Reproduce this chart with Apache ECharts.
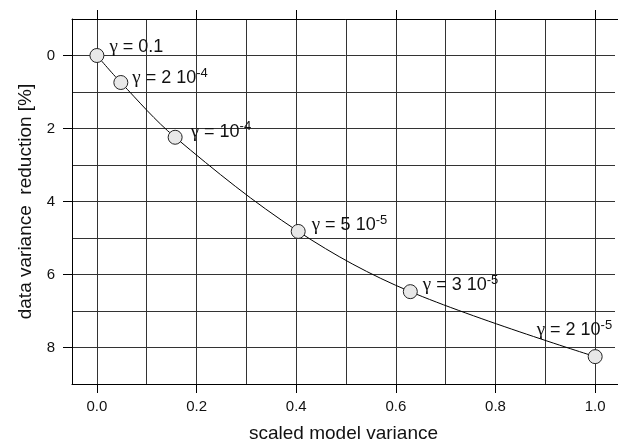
<!DOCTYPE html>
<html>
<head>
<meta charset="utf-8">
<script src="https://cdn.jsdelivr.net/npm/echarts@6/dist/echarts.min.js"></script>
<style>
  html, body { margin: 0; padding: 0; background: #fff; }
  #chart { width: 618px; height: 443px; }
</style>
</head>
<body>
<div id="chart"></div>
<script>
// scaled model variance / data variance reduction [%]
var modelVar = [0.0, 0.048, 0.157, 0.404, 0.629, 1.0];
var dataRed = [0.0, 0.74, 2.24, 4.82, 6.47, 8.25];
// gamma labels: mantissa part and exponent (superscript)
var gammaTxt = ['0.1', '2 10', '10', '5 10', '3 10', '2 10'];
var gammaExp = ['', '-4', '-4', '-5', '-5', '-5'];
var xTicks = [0, 0.2, 0.4, 0.6, 0.8, 1.0];
var yTicks = [0, 2, 4, 6, 8];

// label offset from point centre (left edge, vertical middle)
var labelOff = [[13, -8], [12, -4], [16, -5], [14, -6], [13, -6], [-58, -26]];

var font = '"Liberation Sans", Arial, sans-serif';
var noLine = { show: false, lineStyle: { color: 'rgba(0,0,0,0)', width: 0 } };
var chart = echarts.init(document.getElementById('chart'));

var pts = modelVar.map(function (x, i) {
  var txt = '{g|γ} = ' + gammaTxt[i] + (gammaExp[i] ? '{s|' + gammaExp[i] + '}' : '');
  return {
    value: [x, dataRed[i]],
    label: {
      show: true,
      formatter: txt,
      position: [labelOff[i][0] + 7, labelOff[i][1] + 7],
      align: 'left',
      verticalAlign: 'middle'
    }
  };
});

// plot runs off the right edge of the picture
var xMin = -0.05, xMax = 1.1;

var option = {
  animation: false,
  // mask the stray edge line at the right border of the canvas
  graphic: [{
    type: 'rect', z: 1, silent: true,
    shape: { x: 615, y: 20, width: 5, height: 363 },
    style: { fill: '#fff' }
  }],
  grid: [
    { show: false, borderWidth: 0, left: 72, top: 19, bottom: 59, right: -27, outerBoundsMode: 'none' },
    // second grid only for the vertical lines, ending at 1.0
    { show: false, borderWidth: 0, left: 72, top: 19, bottom: 59, right: 23, outerBoundsMode: 'none' }
  ],
  xAxis: [{
    type: 'value',
    min: xMin,
    max: xMax,
    name: 'scaled model variance',
    nameLocation: 'middle',
    nameGap: 40,
    nameTextStyle: { fontSize: 19, color: '#111', fontFamily: font, padding: [0, 30, 0, 0] },
    axisLine: { onZero: false, lineStyle: { color: '#000', width: 1 } },
    axisTick: { customValues: xTicks, length: 9, lineStyle: { color: '#000' } },
    axisLabel: {
      customValues: xTicks, margin: 15, fontSize: 15, color: '#111', fontFamily: font,
      formatter: function (v) { return v.toFixed(1); }
    },
    splitLine: { show: false }
  }, {
    type: 'value',
    position: 'top',
    min: xMin,
    max: xMax,
    axisLine: { onZero: false, lineStyle: { color: '#000', width: 1 } },
    axisTick: { customValues: xTicks, length: 9, lineStyle: { color: '#000' } },
    axisLabel: { show: false },
    splitLine: { show: false }
  }, {
    // grid lines every 0.1
    type: 'value',
    gridIndex: 1,
    min: xMin,
    max: 1.0,
    splitNumber: 11,
    axisLine: noLine,
    axisTick: { show: false },
    axisLabel: { show: false },
    splitLine: { show: true, lineStyle: { color: '#333', width: 1 } }
  }],
  yAxis: [{
    type: 'value',
    inverse: true,
    min: -1,
    max: 9,
    name: 'data variance  reduction [%]',
    nameLocation: 'middle',
    nameGap: 36,
    nameTextStyle: { fontSize: 19, color: '#111', fontFamily: font },
    axisLine: { onZero: false, lineStyle: { color: '#000', width: 1 } },
    axisTick: { customValues: yTicks, length: 9, lineStyle: { color: '#000' } },
    axisLabel: { customValues: yTicks, margin: 17, fontSize: 15, color: '#111', fontFamily: font },
    splitLine: { show: false }
  }, {
    // grid lines every 1
    type: 'value',
    position: 'right',
    offset: 80,
    inverse: true,
    min: -1,
    max: 9,
    interval: 1,
    axisLine: noLine,
    axisTick: { show: false },
    axisLabel: { show: false },
    splitLine: { show: true, lineStyle: { color: '#333', width: 1 } }
  }, {
    type: 'value',
    gridIndex: 1,
    position: 'right',
    offset: 80,
    inverse: true,
    min: -1,
    max: 9,
    axisLine: noLine,
    axisTick: { show: false },
    axisLabel: { show: false },
    splitLine: { show: false }
  }],
  series: [{
    type: 'line',
    data: pts,
    smooth: 0.35,
    symbol: 'circle',
    symbolSize: 14,
    lineStyle: { color: '#000', width: 1 },
    itemStyle: { color: '#e8e8e8', borderColor: '#222', borderWidth: 1 },
    label: {
      fontSize: 18, color: '#111', fontFamily: font,
      rich: {
        g: { fontSize: 19, fontFamily: '"Liberation Serif", serif', color: '#111' },
        s: { fontSize: 13, fontFamily: font, color: '#111', padding: [0, 0, 10, 0] }
      }
    },
    z: 5
  }]
};
chart.setOption(option);
</script>
</body>
</html>
